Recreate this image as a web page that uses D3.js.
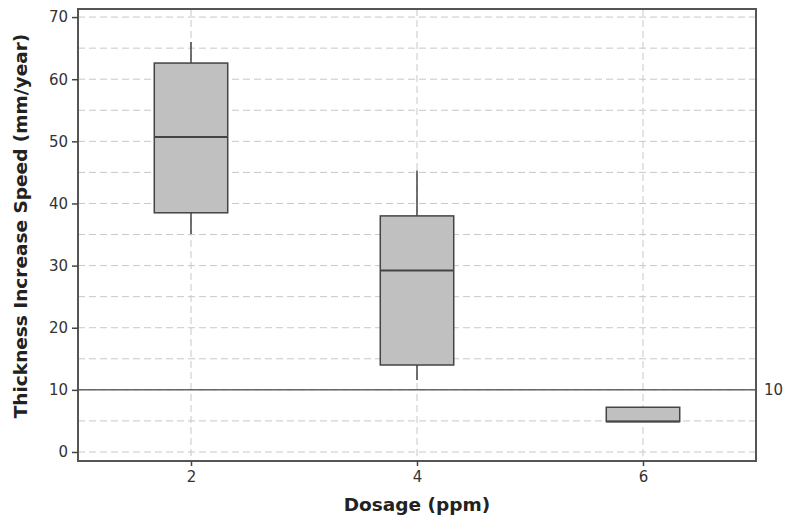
<!DOCTYPE html>
<html>
<head>
<meta charset="utf-8">
<script src="https://cdn.jsdelivr.net/npm/d3@7"></script>
<style>
  body { margin: 0; background: #fff; }
  text { font-family: "DejaVu Sans", Verdana, sans-serif; }
</style>
</head>
<body>
<svg id="chart"></svg>
<script>
// box plot values
const dosages = [2, 4, 6]
const whiskerLow = [35.1, 11.6, 4.9]
const q1 = [38.5, 14.0, 4.9]
const median = [50.7, 29.2, 4.9]
const q3 = [62.6, 38.0, 7.2]
const whiskerHigh = [66.0, 45.3, 7.2]
const refLine = 10
const yTicks = [0, 10, 20, 30, 40, 50, 60, 70]
const yGrid = [0, 5, 10, 15, 20, 25, 30, 35, 40, 45, 50, 55, 60, 65, 70]

const boxes = dosages.map((d, i) => ({
    dose: d, lo: whiskerLow[i], q1: q1[i], med: median[i], q3: q3[i], hi: whiskerHigh[i]
}))

const W = 786, H = 519
const margin = { top: 9, right: 30, bottom: 58, left: 78 }
const width = W - margin.left - margin.right
const height = H - margin.top - margin.bottom

const svg = d3.select('#chart').attr('width', W).attr('height', H)
const chart = svg.append('g')
    .attr('transform', `translate(${margin.left}, ${margin.top})`)

const x = d3.scaleLinear().domain([1, 7]).range([0, width])
const y = d3.scaleLinear().domain([-1.45, 71.3]).range([height, 0])

// grid
chart.selectAll('.hgrid')
    .data(yGrid)
    .join('line')
        .attr('class', 'hgrid')
        .attr('x1', 0).attr('x2', width)
        .attr('y1', d => y(d)).attr('y2', d => y(d))
        .attr('stroke', '#c8c8c8')
        .attr('stroke-dasharray', '7,4')

chart.selectAll('.vgrid')
    .data(dosages)
    .join('line')
        .attr('class', 'vgrid')
        .attr('x1', d => x(d)).attr('x2', d => x(d))
        .attr('y1', 0).attr('y2', height)
        .attr('stroke', '#c8c8c8')
        .attr('stroke-dasharray', '7,4')

// reference line
chart.append('line')
    .attr('x1', 0).attr('x2', width)
    .attr('y1', y(refLine)).attr('y2', y(refLine))
    .attr('stroke', '#666')
    .attr('stroke-width', 1.5)

chart.append('text')
    .attr('x', width + 8)
    .attr('y', y(refLine))
    .attr('dy', '0.35em')
    .attr('font-size', 15)
    .attr('fill', '#333')
    .text(refLine)

// boxes
const bw = x(1.65) - x(1)

const g = chart.selectAll('.box')
    .data(boxes)
    .join('g')
        .attr('class', 'box')

g.append('line')
    .attr('x1', d => x(d.dose)).attr('x2', d => x(d.dose))
    .attr('y1', d => y(d.hi)).attr('y2', d => y(d.q3))
    .attr('stroke', '#444').attr('stroke-width', 1.5)

g.append('line')
    .attr('x1', d => x(d.dose)).attr('x2', d => x(d.dose))
    .attr('y1', d => y(d.q1)).attr('y2', d => y(d.lo))
    .attr('stroke', '#444').attr('stroke-width', 1.5)

g.append('rect')
    .attr('x', d => x(d.dose) - bw / 2)
    .attr('width', bw)
    .attr('y', d => y(d.q3))
    .attr('height', d => y(d.q1) - y(d.q3))
    .attr('fill', '#c0c0c0')
    .attr('stroke', '#444')
    .attr('stroke-width', 1.5)

g.append('line')
    .attr('x1', d => x(d.dose) - bw / 2).attr('x2', d => x(d.dose) + bw / 2)
    .attr('y1', d => y(d.med)).attr('y2', d => y(d.med))
    .attr('stroke', '#444').attr('stroke-width', 2)

// frame
chart.append('rect')
    .attr('width', width).attr('height', height)
    .attr('fill', 'none')
    .attr('stroke', '#555')
    .attr('stroke-width', 2)

// axes
const xAxisGroup = chart.append('g')
    .attr('transform', `translate(0, ${height})`)
    .call(d3.axisBottom(x).tickValues(dosages).tickFormat(d3.format('d')).tickSize(5).tickPadding(5))
const yAxisGroup = chart.append('g')
    .call(d3.axisLeft(y).tickValues(yTicks).tickSize(6).tickPadding(4))

for (const ag of [xAxisGroup, yAxisGroup]) {
    ag.select('.domain').remove()
    ag.selectAll('.tick line').attr('stroke', '#444').attr('stroke-width', 1.5)
    ag.selectAll('.tick text')
        .attr('font-size', 15)
        .attr('font-family', '"DejaVu Sans", Verdana, sans-serif')
        .attr('fill', '#333')
}

// axis titles
svg.append('text')
    .attr('x', margin.left + x(4))
    .attr('y', 511)
    .attr('text-anchor', 'middle')
    .attr('font-size', 18.5)
    .attr('font-weight', 'bold')
    .attr('fill', '#222')
    .text('Dosage (ppm)')

svg.append('text')
    .attr('transform', `translate(27, 226) rotate(-90)`)
    .attr('text-anchor', 'middle')
    .attr('font-size', 18.5)
    .attr('font-weight', 'bold')
    .attr('fill', '#222')
    .text('Thickness Increase Speed (mm/year)')
</script>
</body>
</html>
